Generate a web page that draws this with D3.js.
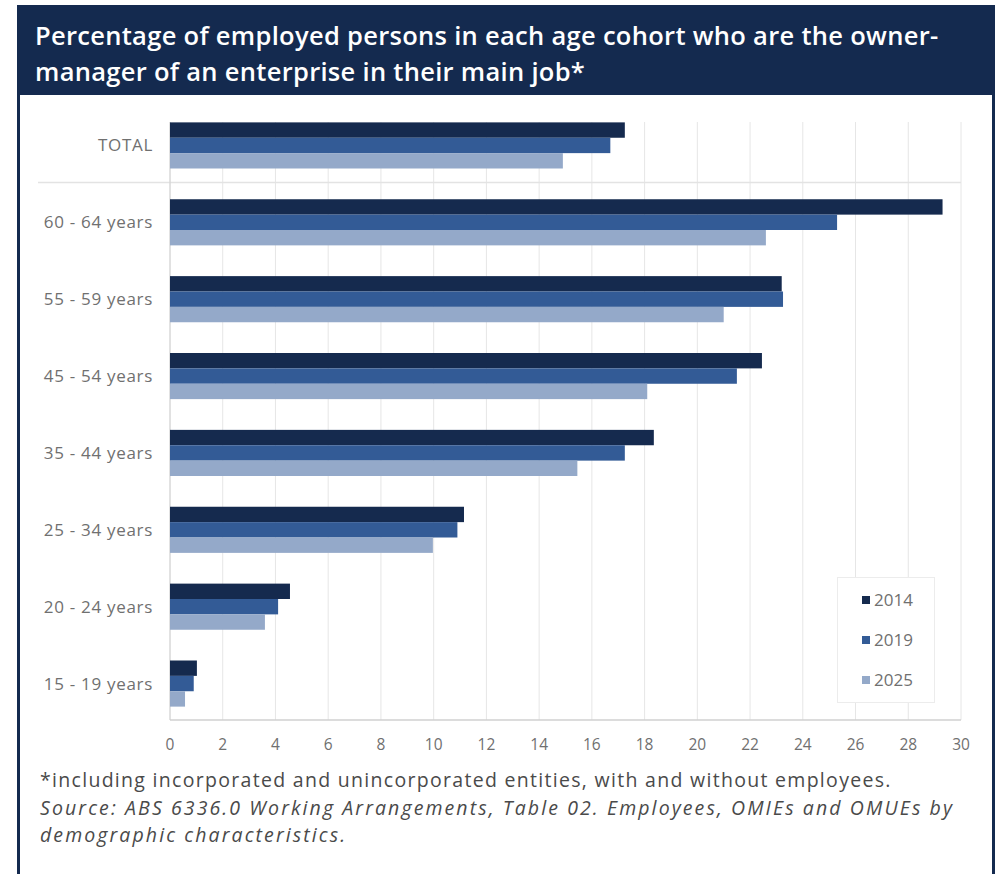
<!DOCTYPE html>
<html>
<head>
<meta charset="utf-8">
<script src="https://cdn.jsdelivr.net/npm/d3@7"></script>
<style>
    body { margin: 0; background: #fff; }
    #chart { width: 1002px; height: 874px; }
    .cat-label, .tick-label { font-family: "Open Sans", sans-serif; fill: #707070; }
</style>
</head>
<body>
<div id="chart"></div>
<script>
(function () {
    // Data
    const categories = ["TOTAL", "60 - 64 years", "55 - 59 years", "45 - 54 years",
        "35 - 44 years", "25 - 34 years", "20 - 24 years", "15 - 19 years"];
    const years = ["2014", "2019", "2025"];
    const values2014 = [17.25, 29.3, 23.2, 22.45, 18.35, 11.15, 4.55, 1.02];
    const values2019 = [16.7, 25.3, 23.25, 21.5, 17.25, 10.9, 4.1, 0.9];
    const values2025 = [14.9, 22.6, 21.0, 18.1, 15.45, 9.97, 3.6, 0.57];
    const xTicks = [0, 2, 4, 6, 8, 10, 12, 14, 16, 18, 20, 22, 24, 26, 28, 30];

    const seriesValues = [values2014, values2019, values2025];
    const colors = ["#152a4e", "#335b96", "#94a9c9"];

    const W = 1002, H = 874;
    const svg = d3.select("#chart").append("svg")
        .attr("width", W).attr("height", H);

    // Frame and title bar
    const navy = "#142a4f";
    svg.append("rect").attr("x", 17).attr("y", 5).attr("width", 978).attr("height", 90).attr("fill", navy);
    svg.append("rect").attr("x", 17).attr("y", 95).attr("width", 3).attr("height", H - 95).attr("fill", navy);
    svg.append("rect").attr("x", 992).attr("y", 95).attr("width", 3).attr("height", H - 95).attr("fill", navy);

    const title = svg.append("text")
        .attr("font-family", "'Open Sans', sans-serif")
        .attr("font-weight", 600)
        .attr("font-size", 25.5)
        .attr("letter-spacing", 0.3)
        .attr("fill", "#fff");
    title.append("tspan").attr("x", 35).attr("y", 45)
        .text("Percentage of employed persons in each age cohort who are the owner-");
    title.append("tspan").attr("x", 35).attr("y", 81)
        .text("manager of an enterprise in their main job*");

    // Scales
    const x = d3.scaleLinear().domain([0, 30]).range([170, 961]);
    const y = d3.scaleBand().domain(categories).range([107, 722]).paddingInner(0.4).paddingOuter(0.2);
    const yInner = d3.scaleBand().domain(years).range([0, y.bandwidth()]);

    const plotTop = 122, plotBottom = 720;

    // Vertical gridlines
    svg.append("g").selectAll("line")
        .data(xTicks)
        .join("line")
        .attr("x1", d => x(d)).attr("x2", d => x(d))
        .attr("y1", plotTop).attr("y2", plotBottom)
        .attr("stroke", "#e6e6e6").attr("stroke-width", 1);

    // Separator under TOTAL
    svg.append("line")
        .attr("x1", 38).attr("x2", x(30))
        .attr("y1", 182.5).attr("y2", 182.5)
        .attr("stroke", "#e3e3e3").attr("stroke-width", 1.5);

    // Baseline
    svg.append("line")
        .attr("x1", x(0)).attr("x2", x(30))
        .attr("y1", plotBottom).attr("y2", plotBottom)
        .attr("stroke", "#d0d0d0").attr("stroke-width", 1.5);
    svg.append("line")
        .attr("x1", x(0)).attr("x2", x(0))
        .attr("y1", plotTop).attr("y2", plotBottom)
        .attr("stroke", "#d0d0d0").attr("stroke-width", 1);

    // Bars
    const groups = svg.append("g").selectAll("g")
        .data(categories)
        .join("g")
        .attr("transform", d => `translate(0,${y(d)})`);

    groups.selectAll("rect")
        .data((d, i) => years.map((yr, j) => ({ yr, v: seriesValues[j][i], j })))
        .join("rect")
        .attr("x", x(0))
        .attr("y", d => yInner(d.yr))
        .attr("width", d => x(d.v) - x(0))
        .attr("height", yInner.bandwidth())
        .attr("fill", d => colors[d.j]);

    // Category labels
    svg.append("g").selectAll("text")
        .data(categories)
        .join("text")
        .attr("class", "cat-label")
        .attr("x", 153)
        .attr("y", d => y(d) + y.bandwidth() / 2)
        .attr("dy", "0.35em")
        .attr("text-anchor", "end")
        .attr("font-size", 17)
        .attr("letter-spacing", 0.7)
        .text(d => d);

    // X tick labels
    svg.append("g").selectAll("text")
        .data(xTicks)
        .join("text")
        .attr("class", "tick-label")
        .attr("x", d => x(d))
        .attr("y", 745)
        .attr("dy", "0.35em")
        .attr("text-anchor", "middle")
        .attr("font-size", 15.5)
        .text(d => d);

    // Legend
    const legend = svg.append("g");
    legend.append("rect")
        .attr("x", 837.5).attr("y", 577.5).attr("width", 97).attr("height", 125)
        .attr("fill", "#fff").attr("stroke", "#ececec");
    years.forEach((yr, j) => {
        const ly = 600 + j * 40;
        legend.append("rect")
            .attr("x", 862).attr("y", ly - 4).attr("width", 8).attr("height", 8)
            .attr("fill", colors[j]);
        legend.append("text")
            .attr("class", "tick-label")
            .attr("x", 874).attr("y", ly).attr("dy", "0.35em")
            .attr("font-size", 17)
            .text(yr);
    });

    // Footnote
    const foot = svg.append("g")
        .attr("font-family", "'Open Sans', sans-serif")
        .attr("font-size", 19.5)
        .attr("fill", "#4a4a4a");
    foot.append("text").attr("x", 40).attr("y", 787)
        .attr("letter-spacing", 1.3)
        .text("*including incorporated and unincorporated entities, with and without employees.");
    foot.append("text").attr("x", 40).attr("y", 814.5).attr("font-style", "italic")
        .attr("letter-spacing", 2.1)
        .text("Source: ABS 6336.0 Working Arrangements, Table 02. Employees, OMIEs and OMUEs by");
    foot.append("text").attr("x", 40).attr("y", 842).attr("font-style", "italic")
        .attr("letter-spacing", 2.1)
        .text("demographic characteristics.");
})();
</script>
</body>
</html>
